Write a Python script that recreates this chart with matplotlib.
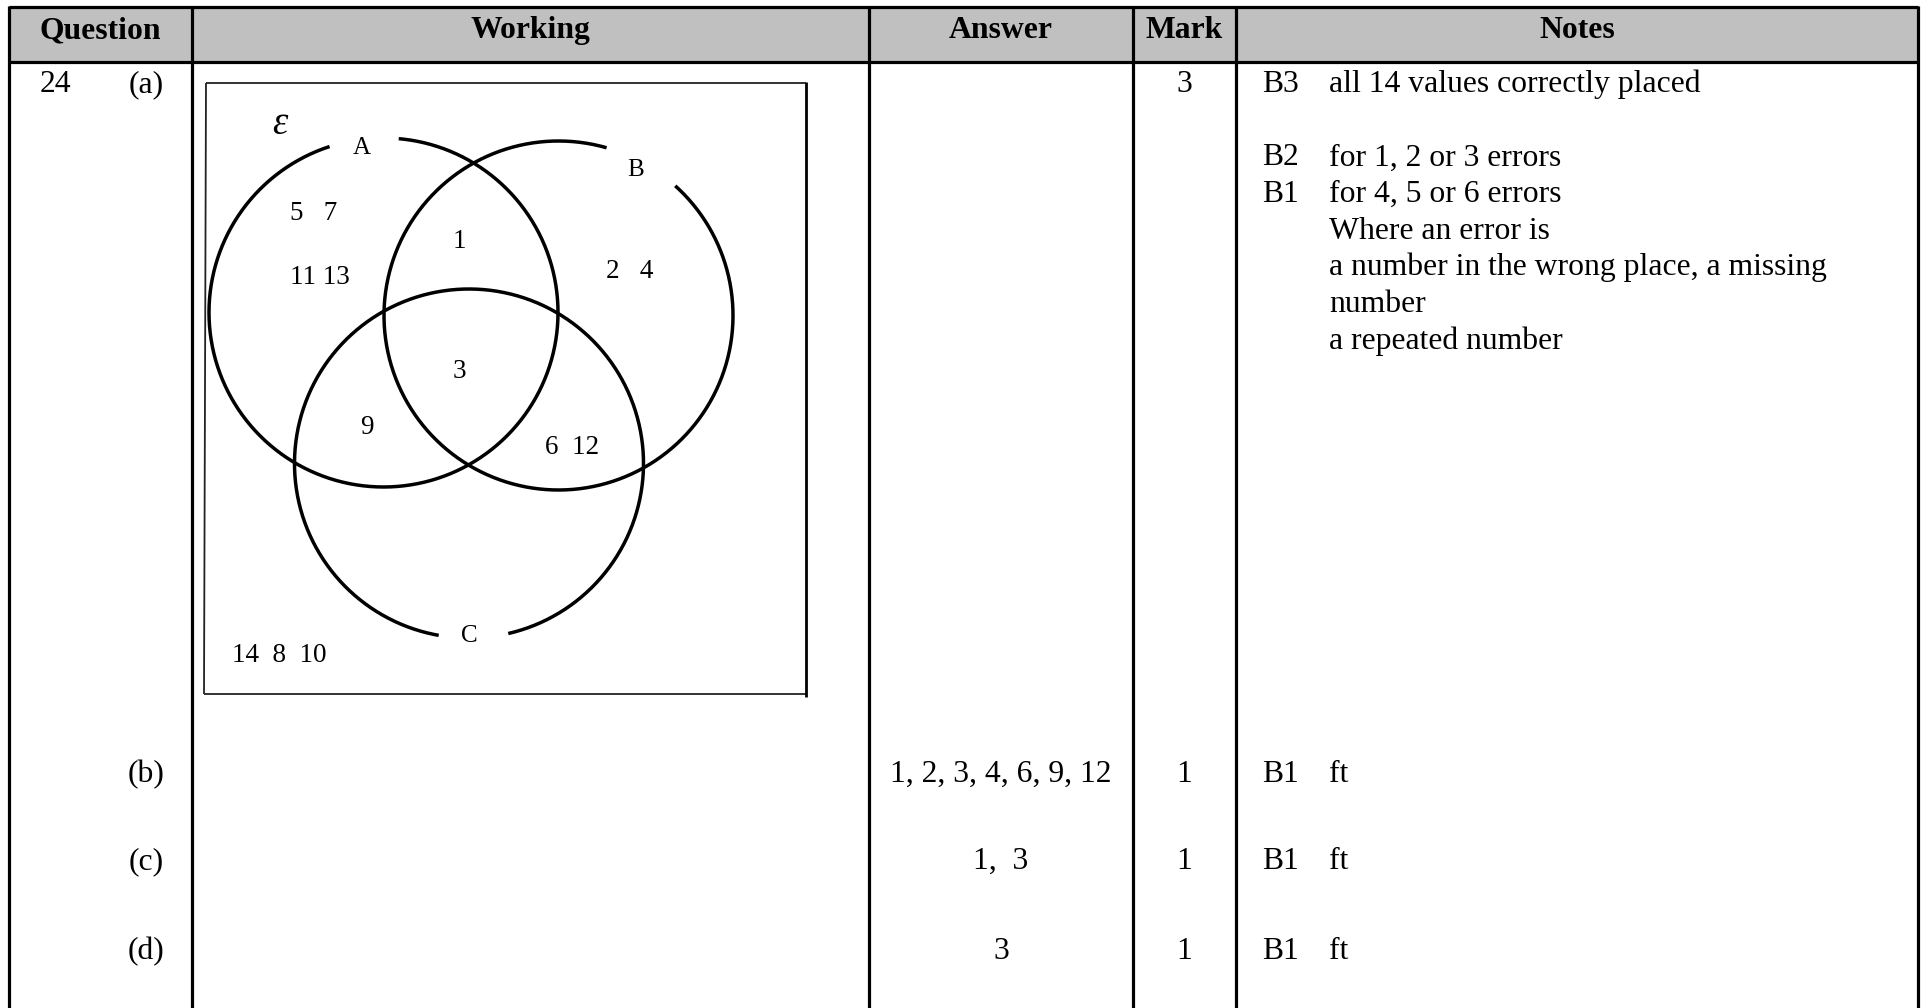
import numpy as np
import matplotlib
matplotlib.use("Agg")
import matplotlib.pyplot as plt
from matplotlib.patches import Rectangle

# ---------------- data ----------------
headers = ["Question", "Working", "Answer", "Mark", "Notes"]
question_no = "24"
parts = ["(a)", "(b)", "(c)", "(d)"]
answers = ["", "1, 2, 3, 4, 6, 9, 12", "1,  3", "3"]
marks = ["3", "1", "1", "1"]
note_codes_a = ["B3", "", "B2", "B1", "", "", "", ""]
note_texts_a = ["all 14 values correctly placed", "",
                "for 1, 2 or 3 errors", "for 4, 5 or 6 errors",
                "Where an error is",
                "a number in the wrong place, a missing",
                "number", "a repeated number"]
note_codes_rest = ["B1", "B1", "B1"]
note_texts_rest = ["ft", "ft", "ft"]

set_labels = ["A", "B", "C"]
universal_label = "\u03b5"
only_A = ["5   7", "11 13"]
A_and_B_only = ["1"]
only_B = ["2   4"]
all_three = ["3"]
A_and_C_only = ["9"]
B_and_C_only = ["6  12"]
outside = ["14  8  10"]

# ---------------- layout ----------------
W, H = 1921, 1008
fig = plt.figure(figsize=(W / 100, H / 100), dpi=100)
ax = fig.add_axes([0, 0, 1, 1])
ax.set_xlim(0, W)
ax.set_ylim(H, 0)
ax.axis("off")

SERIF = ["Liberation Serif", "DejaVu Serif"]
FS = 22.8
VFS = 19.5
LW = 2.3

col_x = [9, 192, 869, 1133, 1236, 1918]
head_top, head_bot = 7, 62

# header
ax.add_patch(Rectangle((col_x[0], head_top), col_x[-1] - col_x[0], head_bot - head_top,
                       facecolor="#c0c0c0", edgecolor="none", zorder=0))
ax.plot([col_x[0], col_x[-1]], [head_top, head_top], color="black", lw=LW, solid_capstyle="butt")
ax.plot([col_x[0], col_x[-1]], [head_bot, head_bot], color="black", lw=LW, solid_capstyle="butt")
for x in col_x:
    ax.plot([x, x], [head_top - 1, H], color="black", lw=LW, solid_capstyle="butt")
for i, h in enumerate(headers):
    cx = (col_x[i] + col_x[i + 1]) / 2
    ax.text(cx, 38, h, ha="center", va="baseline", fontsize=FS, fontweight="bold", family=SERIF)

# rows
row_base = [92, 782, 869, 959]
ax.text(40, row_base[0], question_no, ha="left", va="baseline", fontsize=FS, family=SERIF)
ans_cx = (col_x[2] + col_x[3]) / 2
mark_cx = (col_x[3] + col_x[4]) / 2
for i, p in enumerate(parts):
    ax.text(146, row_base[i], p, ha="center", va="baseline", fontsize=FS, family=SERIF)
    if answers[i]:
        ax.text(ans_cx, row_base[i], answers[i], ha="center", va="baseline", fontsize=FS, family=SERIF)
    ax.text(mark_cx, row_base[i], marks[i], ha="center", va="baseline", fontsize=FS, family=SERIF)

code_x, note_x = 1262, 1329
line_h = 36.7
for k, (c, t) in enumerate(zip(note_codes_a, note_texts_a)):
    y = row_base[0] + k * line_h
    if c:
        ax.text(code_x, y, c, ha="left", va="baseline", fontsize=FS, family=SERIF)
    if t:
        ax.text(note_x, y, t, ha="left", va="baseline", fontsize=FS, family=SERIF)
for i, (c, t) in enumerate(zip(note_codes_rest, note_texts_rest)):
    y = row_base[i + 1]
    ax.text(code_x, y, c, ha="left", va="baseline", fontsize=FS, family=SERIF)
    ax.text(note_x, y, t, ha="left", va="baseline", fontsize=FS, family=SERIF)

# ---------------- Venn diagram ----------------
bl, br, bt, bb = 205, 806, 83, 694
thin = dict(color="#222222", lw=1.3, solid_capstyle="butt")
ax.plot([bl + 1, br], [bt, bt], **thin)
ax.plot([bl + 1, bl - 1], [bt, bb], **thin)
ax.plot([bl - 1, br], [bb, bb], **thin)
ax.plot([br, br], [bt - 1, bb + 3], color="black", lw=2.0, solid_capstyle="butt")

R = 174.5
centers = [(383.5, 312.5), (558.5, 315.5), (469, 463.5)]
gaps = [(85, 108), (48, 74), (260, 283)]  # degrees, y-up convention
for (cx, cy), (g0, g1) in zip(centers, gaps):
    th = np.radians(np.linspace(g1, g0 + 360, 600))
    ax.plot(cx + R * np.cos(th), cy - R * np.sin(th), color="black", lw=2.5,
            solid_capstyle="butt")

label_pos = [(362, 148), (636, 170), (469, 636)]
for lab, (x, y) in zip(set_labels, label_pos):
    ax.text(x, y, lab, ha="center", va="center", fontsize=18, family=SERIF)
ax.text(280, 125, universal_label, ha="center", va="center", fontsize=28,
        style="italic", family=SERIF)

regions = [
    (only_A, [(314, 214), (320, 277)]),
    (A_and_B_only, [(459.5, 241)]),
    (only_B, [(630, 272)]),
    (all_three, [(459.5, 371)]),
    (A_and_C_only, [(366.5, 428)]),
    (B_and_C_only, [(572, 447)]),
    (outside, [(279, 656)]),
]
for texts, poss in regions:
    for t, (x, y) in zip(texts, poss):
        ax.text(x, y, t, ha="center", va="center", fontsize=VFS, family=SERIF)

fig.savefig("out.png", dpi=100)
